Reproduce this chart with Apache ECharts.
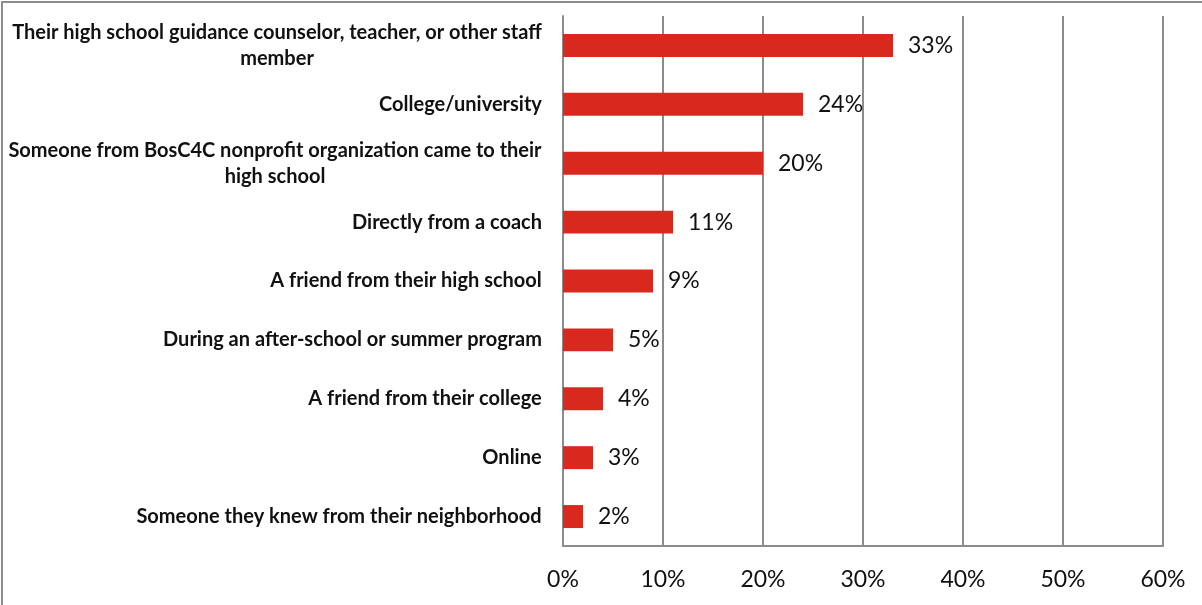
<!DOCTYPE html>
<html>
<head>
<meta charset="utf-8">
<script src="https://cdn.jsdelivr.net/npm/echarts@6/dist/echarts.min.js"></script>
<style>
  html, body { margin: 0; padding: 0; background: #fff; }
  #chart { width: 1202px; height: 605px; }
</style>
</head>
<body>
<div id="chart"></div>
<script>
// How students first heard about the program (share of respondents)
const categories = [
  ['Their high school guidance counselor, teacher, or other staff', 'member'],
  ['College/university'],
  ['Someone from BosC4C nonprofit organization came to their', 'high school'],
  ['Directly from a coach'],
  ['A friend from their high school'],
  ['During an after-school or summer program'],
  ['A friend from their college'],
  ['Online'],
  ['Someone they knew from their neighborhood']
];
const shares = [33, 24, 20, 11, 9, 5, 4, 3, 2];
const axisTicks = [0, 10, 20, 30, 40, 50, 60];

const catFontSize = 20;
const measureCtx = document.createElement('canvas').getContext('2d');
measureCtx.font = 'bold ' + catFontSize + 'px Lato';
function textWidth(s) { return Math.ceil(measureCtx.measureText(s).width); }

// Multi-line labels: each line centred within the widest line, block right-aligned to the axis
const rich = {};
categories.forEach((lines, i) => {
  const w = Math.max(...lines.map(textWidth));
  rich['c' + i] = {
    width: w, align: 'center',
    fontFamily: 'Lato', fontWeight: 'bold', fontSize: catFontSize,
    color: '#111', lineHeight: 26
  };
});

const chart = echarts.init(document.getElementById('chart'));
chart.setOption({
  animation: false,
  backgroundColor: '#fff',
  graphic: [{
    type: 'rect',
    shape: { x: 2, y: 2, width: 1400, height: 800 },
    style: { fill: 'none', stroke: '#8c8c8c', lineWidth: 2 },
    silent: true, z: 100
  }],
  grid: { left: 563, right: 39, top: 16, bottom: 59 },
  xAxis: {
    type: 'value',
    min: axisTicks[0], max: axisTicks[axisTicks.length - 1], interval: 10,
    axisLine: { show: true, lineStyle: { color: '#8c8c8c', width: 2 } },
    axisTick: { show: false },
    splitLine: { show: true, lineStyle: { color: '#8c8c8c', width: 2 } },
    axisLabel: {
      formatter: v => v + '%',
      margin: 22,
      fontFamily: 'Lato', fontSize: 23, color: '#111'
    }
  },
  yAxis: {
    type: 'category',
    inverse: true,
    data: categories.map(l => l.join(' ')),
    axisLine: { show: true, lineStyle: { color: '#8c8c8c', width: 2 } },
    axisTick: { show: false },
    axisLabel: {
      margin: 21,
      align: 'right',
      formatter: (val, idx) => categories[idx].map(s => '{c' + idx + '|' + s + '}').join('\n'),
      rich: rich
    }
  },
  series: [{
    type: 'bar',
    data: shares,
    barCategoryGap: '61%',
    itemStyle: { color: '#d9291e' },
    label: {
      show: true, position: 'right', distance: 15,
      formatter: p => p.value + '%',
      fontFamily: 'Lato', fontSize: 23, color: '#111'
    }
  }]
});
</script>
</body>
</html>
